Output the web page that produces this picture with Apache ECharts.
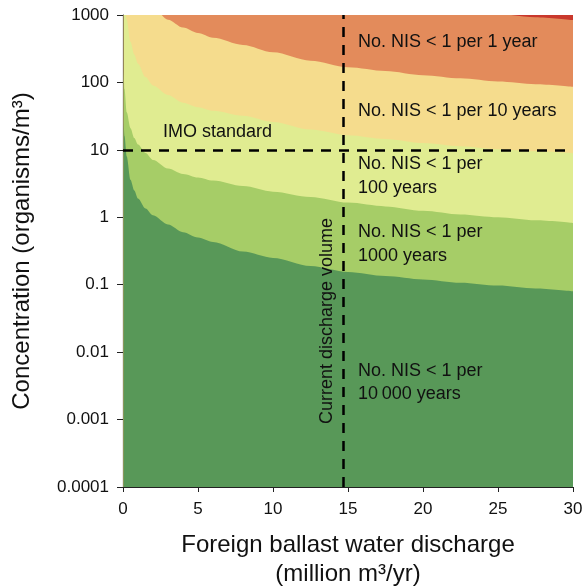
<!DOCTYPE html>
<html>
<head>
<meta charset="utf-8">
<script src="https://cdn.jsdelivr.net/npm/echarts@6/dist/echarts.min.js"></script>
<style>
  html, body { margin: 0; padding: 0; background: #fff; }
  #main { width: 585px; height: 586px; }
</style>
</head>
<body>
<div id="main"></div>
<script>
// discharge (million m3/yr) where the boundaries were read
var discharge = [0.05, 0.1, 0.25, 0.5, 0.75, 1, 1.5, 2, 3, 4, 5, 6, 8, 10, 12.5, 15, 17.5, 20, 22.5, 25, 27.5, 30];

// upper edge of each risk band (organisms/m3)
var band10000yr = [25, 16, 8, 3.6, 2.5, 1.9, 1.35, 1.07, 0.78, 0.6, 0.5, 0.43, 0.31, 0.25, 0.19, 0.155, 0.135, 0.12, 0.107, 0.097, 0.088, 0.08];
var band1000yr = [150, 80, 36, 21, 15, 12, 9, 7.1, 5.3, 4.4, 3.9, 3.5, 2.9, 2.4, 2.0, 1.65, 1.45, 1.25, 1.1, 1.0, 0.9, 0.82];
var band100yr = [3000, 1500, 850, 400, 260, 190, 120, 90, 65, 50, 43, 38, 32, 26, 20, 16.5, 14.5, 12.6, 11.3, 10.2, 9.5, 8.9];
var band10yr = [40000, 20000, 10000, 6000, 4500, 3500, 2000, 1300, 850, 650, 540, 460, 360, 280, 210, 168, 148, 128, 115, 103, 94, 86];
var band1yr = [400000, 200000, 100000, 60000, 40000, 30000, 18000, 12000, 8000, 6000, 5000, 4200, 3300, 2600, 2000, 1650, 1450, 1300, 1150, 1030, 930, 840];

var xTicks = [0, 5, 10, 15, 20, 25, 30];
var yTickLabels = ['0.0001', '0.001', '0.01', '0.1', '1', '10', '100', '1000'];

var currentDischarge = 14.7;
var imoStandard = 10;

var font = 'Liberation Sans, Arial, Helvetica, sans-serif';

function pairs(ys) {
    return discharge.map(function (x, i) { return [x, ys[i]]; });
}

function band(name, ys, color) {
    return {
        name: name,
        type: 'line',
        data: pairs(ys),
        showSymbol: false,
        silent: true,
        clip: true,
        smooth: 0.3,
        smoothMonotone: 'x',
        lineStyle: { width: 0 },
        areaStyle: { color: color, opacity: 1, origin: 'start' }
    };
}

var dom = document.getElementById('main');
var myChart = echarts.init(dom);

var series = [
    band('1 year', band1yr, '#e38b5b'),
    band('10 years', band10yr, '#f5dc8d'),
    band('100 years', band100yr, '#e0ec91'),
    band('1000 years', band1000yr, '#a6cd67'),
    band('10000 years', band10000yr, '#589858')
];
series[4].markLine = {
    silent: true,
    symbol: 'none',
    label: { show: false },
    lineStyle: { color: '#000', width: 2.5, type: [10, 8] },
    data: [{ xAxis: currentDischarge }, { yAxis: imoStandard }]
};

function txt(left, top, text) {
    return {
        type: 'text',
        left: left,
        top: top,
        z: 100,
        style: { text: text, fill: '#111', font: '18px ' + font }
    };
}

option = {
    animation: false,
    grid: {
        left: 123, right: 12, top: 15, bottom: 99,
        outerBoundsMode: 'none',
        containLabel: false,
        show: true, borderWidth: 0, backgroundColor: '#c9382c'
    },
    xAxis: {
        type: 'value',
        min: xTicks[0], max: xTicks[xTicks.length - 1], interval: 5,
        name: 'Foreign ballast water discharge\n(million m³/yr)',
        nameLocation: 'middle',
        nameGap: 44,
        nameTextStyle: { fontSize: 24, fontFamily: font, color: '#111', lineHeight: 29, verticalAlign: 'top' },
        axisLine: { lineStyle: { color: '#222', width: 1.2 } },
        axisTick: { length: 5, lineStyle: { color: '#222' } },
        axisLabel: { fontSize: 17, fontFamily: font, color: '#111', margin: 14 },
        splitLine: { show: false }
    },
    yAxis: {
        type: 'log',
        logBase: 10,
        min: 0.0001, max: 1000,
        name: 'Concentration (organisms/m³)',
        nameLocation: 'middle',
        nameGap: 89,
        nameTextStyle: { fontSize: 24, fontFamily: font, color: '#111' },
        axisLine: { show: true, lineStyle: { color: '#222', width: 1.2 } },
        axisTick: { show: true, length: 6, lineStyle: { color: '#222' } },
        axisLabel: {
            fontSize: 17, fontFamily: font, color: '#111', margin: 14,
            formatter: function (v) {
                var i = Math.round(Math.log(v) / Math.LN10) + 4;
                return yTickLabels[i];
            }
        },
        splitLine: { show: false }
    },
    series: series,
    graphic: [
        txt(358, 33, 'No. NIS < 1 per 1 year'),
        txt(358, 102, 'No. NIS < 1 per 10 years'),
        txt(358, 155, 'No. NIS < 1 per'),
        txt(358, 179, '100 years'),
        txt(358, 223, 'No. NIS < 1 per'),
        txt(358, 247, '1000 years'),
        txt(358, 362, 'No. NIS < 1 per'),
        txt(358, 385, '10\u2009000 years'),
        txt(163, 123, 'IMO standard'),
        {
            type: 'text',
            x: 318, y: 424,
            rotation: Math.PI / 2,
            z: 100,
            style: { text: 'Current discharge volume', fill: '#111', font: '18px ' + font }
        }
    ]
};

if (option && typeof option === 'object') {
    myChart.setOption(option, true);
}
</script>
</body>
</html>
